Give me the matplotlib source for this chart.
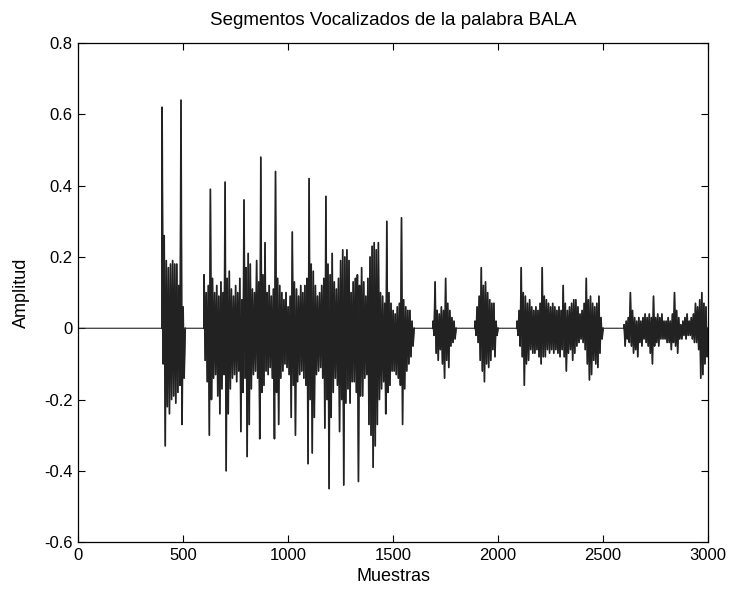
import numpy as np
import matplotlib
matplotlib.use('Agg')
import matplotlib.pyplot as plt

# envolvente: un maximo y un minimo cada 10 muestras
STEP = 10
N_MUESTRAS = 3000
seg_starts = [400, 600, 1690, 1890, 2090, 2600]

seg1_hi = [0.62, 0.26, 0.19, 0.17, 0.18, 0.19, 0.18, 0.18, 0.12, 0.64, 0.06]
seg1_lo = [-0.10, -0.33, -0.22, -0.24, -0.20, -0.19, -0.21, -0.18, -0.16, -0.27, -0.14]

seg2_hi = [0.15, 0.10, 0.12, 0.39, 0.14, 0.10, 0.12, 0.09, 0.13, 0.10,
           0.41, 0.14, 0.16, 0.11, 0.09, 0.12, 0.10, 0.14, 0.08, 0.36,
           0.17, 0.21, 0.18, 0.11, 0.10, 0.19, 0.13, 0.48, 0.15, 0.24,
           0.10, 0.12, 0.09, 0.11, 0.44, 0.14, 0.12, 0.10, 0.08, 0.10,
           0.06, 0.09, 0.27, 0.13, 0.11, 0.09, 0.12, 0.10, 0.12, 0.14,
           0.42, 0.18, 0.16, 0.12, 0.09, 0.10, 0.12, 0.14, 0.37, 0.18,
           0.15, 0.21, 0.13, 0.11, 0.14, 0.19, 0.22, 0.20, 0.22, 0.19,
           0.10, 0.13, 0.14, 0.15, 0.12, 0.17, 0.13, 0.09, 0.14, 0.20,
           0.23, 0.24, 0.22, 0.24, 0.10, 0.09, 0.07, 0.30, 0.10, 0.07,
           0.05, 0.04, 0.06, 0.07, 0.31, 0.08, 0.06, 0.05, 0.05, 0.02]
seg2_lo = [-0.09, -0.15, -0.30, -0.20, -0.14, -0.13, -0.19, -0.24, -0.17, -0.13,
           -0.40, -0.24, -0.17, -0.14, -0.13, -0.15, -0.12, -0.29, -0.18, -0.14,
           -0.36, -0.27, -0.17, -0.13, -0.12, -0.14, -0.31, -0.18, -0.16, -0.12,
           -0.13, -0.11, -0.14, -0.31, -0.18, -0.27, -0.14, -0.12, -0.10, -0.11,
           -0.13, -0.25, -0.16, -0.30, -0.15, -0.13, -0.12, -0.14, -0.16, -0.38,
           -0.20, -0.35, -0.25, -0.13, -0.12, -0.11, -0.14, -0.28, -0.20, -0.45,
           -0.25, -0.18, -0.14, -0.16, -0.29, -0.20, -0.44, -0.21, -0.17, -0.21,
           -0.15, -0.15, -0.18, -0.43, -0.19, -0.19, -0.14, -0.13, -0.27, -0.30,
           -0.39, -0.33, -0.27, -0.20, -0.17, -0.15, -0.24, -0.18, -0.16, -0.12,
           -0.12, -0.13, -0.14, -0.16, -0.27, -0.17, -0.12, -0.10, -0.08, -0.05]

seg3_hi = [0.02, 0.13, 0.05, 0.04, 0.06, 0.05, 0.14, 0.07, 0.05, 0.03, 0.02]
seg3_lo = [-0.02, -0.07, -0.09, -0.06, -0.10, -0.14, -0.09, -0.11, -0.05, -0.04, -0.03]

seg4_hi = [0.02, 0.06, 0.09, 0.17, 0.12, 0.13, 0.10, 0.08, 0.07, 0.07, 0.02]
seg4_lo = [-0.02, -0.04, -0.09, -0.12, -0.15, -0.10, -0.11, -0.09, -0.06, -0.08, -0.02]

seg5_hi = [0.02, 0.05, 0.17, 0.10, 0.09, 0.07, 0.08, 0.06, 0.05, 0.06,
           0.05, 0.07, 0.17, 0.09, 0.08, 0.07, 0.06, 0.07, 0.06, 0.05,
           0.06, 0.05, 0.12, 0.07, 0.05, 0.06, 0.07, 0.08, 0.08, 0.06,
           0.04, 0.05, 0.07, 0.14, 0.08, 0.09, 0.07, 0.06, 0.07, 0.09, 0.03]
seg5_lo = [-0.02, -0.05, -0.08, -0.16, -0.10, -0.09, -0.06, -0.07, -0.07, -0.06,
           -0.08, -0.10, -0.08, -0.08, -0.06, -0.07, -0.06, -0.07, -0.06, -0.07,
           -0.08, -0.06, -0.08, -0.12, -0.07, -0.06, -0.09, -0.07, -0.05, -0.04,
           -0.03, -0.04, -0.06, -0.10, -0.145, -0.13, -0.09, -0.10, -0.11, -0.07, -0.03]

seg6_hi = [0.01, 0.02, 0.03, 0.10, 0.05, 0.03, 0.02, 0.03, 0.02, 0.03,
           0.04, 0.03, 0.04, 0.03, 0.09, 0.03, 0.04, 0.03, 0.04, 0.02,
           0.02, 0.03, 0.02, 0.04, 0.10, 0.05, 0.03, 0.01, 0.02, 0.03,
           0.04, 0.02, 0.03, 0.04, 0.07, 0.06, 0.08, 0.10, 0.07, 0.06]
seg6_lo = [-0.05, -0.03, -0.04, -0.05, -0.07, -0.06, -0.08, -0.04, -0.05, -0.03,
           -0.04, -0.05, -0.07, -0.10, -0.05, -0.04, -0.05, -0.03, -0.03, -0.03,
           -0.04, -0.04, -0.06, -0.04, -0.05, -0.07, -0.03, -0.03, -0.02, -0.03,
           -0.02, -0.02, -0.03, -0.04, -0.04, -0.06, -0.14, -0.13, -0.10, -0.08]

seg_hi = [seg1_hi, seg2_hi, seg3_hi, seg4_hi, seg5_hi, seg6_hi]
seg_lo = [seg1_lo, seg2_lo, seg3_lo, seg4_lo, seg5_lo, seg6_lo]

x_ticks = [0, 500, 1000, 1500, 2000, 2500, 3000]
y_ticks = [-0.6, -0.4, -0.2, 0, 0.2, 0.4, 0.6, 0.8]


def build_segment(start, hi, lo):
    xs = [start - 1]
    ys = [0.0]
    for i in range(len(hi)):
        s = start + i * STEP
        xs += [s, s + STEP / 2]
        ys += [hi[i], lo[i]]
    xs.append(start + len(hi) * STEP)
    ys.append(0.0)
    return xs, ys


plt.rcParams['font.family'] = ['Liberation Sans', 'DejaVu Sans']

fig = plt.figure(figsize=(7.30, 5.99), dpi=100)
ax = fig.add_axes([0.107, 0.095, 0.863, 0.833])

# senal completa (tramos de silencio en cero) con trazo fino
all_x = [0]
all_y = [0.0]
segs = []
for start, hi, lo in zip(seg_starts, seg_hi, seg_lo):
    sx, sy = build_segment(start, hi, lo)
    segs.append((sx, sy))
    all_x += sx
    all_y += sy
if all_x[-1] < N_MUESTRAS:
    all_x.append(N_MUESTRAS)
    all_y.append(0.0)
ax.plot(np.array(all_x), np.array(all_y), color='#222222', linewidth=0.8)

# los tramos vocalizados se ven mas densos en el original
for sx, sy in segs:
    ax.plot(sx, sy, color='#222222', linewidth=1.2)

ax.set_xlim(0, N_MUESTRAS)
ax.set_ylim(-0.6, 0.8)
ax.set_xticks(x_ticks)
ax.set_yticks(y_ticks)
ax.set_yticklabels(['%g' % v for v in y_ticks])
ax.tick_params(direction='in', top=True, right=True, length=5, labelsize=12, pad=4)
for sp in ax.spines.values():
    sp.set_linewidth(0.9)

ax.set_title('Segmentos Vocalizados de la palabra BALA', fontsize=13.5, pad=13)
ax.set_xlabel('Muestras', fontsize=13, labelpad=4)
ax.set_ylabel('Amplitud', fontsize=13, labelpad=10)

fig.savefig('out.png', dpi=100)
